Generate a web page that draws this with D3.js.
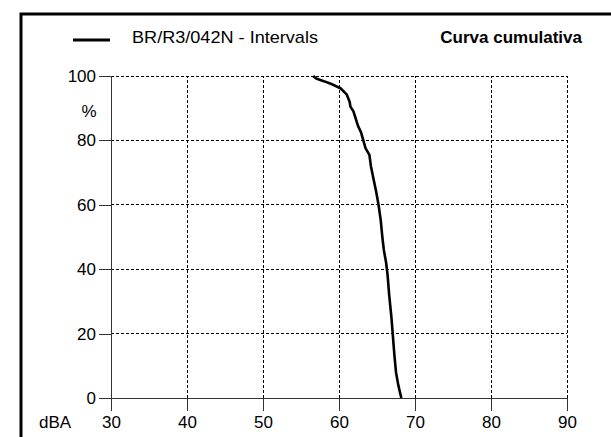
<!DOCTYPE html>
<html><head><meta charset="utf-8">
<script src="https://cdn.jsdelivr.net/npm/d3@7"></script>
<style>body{margin:0;background:#fff;}svg{display:block;font-family:"Liberation Sans",Arial,sans-serif;}</style>
</head><body>
<script>
const seriesName = "BR/R3/042N - Intervals";
const title = "Curva cumulativa";
const dBA = [56.6,57.0,58.0,59.0,60.2,61.0,61.4,61.5,61.9,62.1,62.5,62.9,63.2,63.5,64.0,64.2,64.5,64.9,65.2,65.5,65.7,65.9,66.2,66.4,66.6,66.9,67.1,67.3,67.5,67.8,68.2];
const pct = [100,99.2,98.4,97.5,96.2,94.3,92.0,90.5,89.0,87.5,84.5,82.5,80.0,77.5,75.5,72.0,68.5,64.0,60.0,55.0,50.0,46.0,42.0,38.0,32.0,25.0,19.0,13.0,8.0,4.0,0];
const xTicks = [30,40,50,60,70,80,90];
const yTicks = [0,20,40,60,80,100];

const W = 611, H = 437;
const FS = "17px";
const svg = d3.select("body").append("svg").attr("width", W).attr("height", H);
svg.append("rect").attr("width", W).attr("height", H).attr("fill", "#fff");
// frame
svg.append("rect").attr("x", 21).attr("y", 14).attr("width", 700).attr("height", 500)
  .attr("fill", "none").attr("stroke", "#000").attr("stroke-width", 3);

const x = d3.scaleLinear().domain([30, 90]).range([111, 567]);
const y = d3.scaleLinear().domain([0, 100]).range([398, 76]);

// grid
const g = svg.append("g");
g.selectAll("line.vg").data(xTicks.slice(1)).join("line")
  .attr("x1", d => x(d)).attr("x2", d => x(d)).attr("y1", y(0)).attr("y2", y(100))
  .attr("stroke", "#000").attr("stroke-width", 1).attr("stroke-dasharray", "3,2").attr("shape-rendering", "crispEdges");
g.selectAll("line.hg").data(yTicks.slice(1)).join("line")
  .attr("x1", x(30)).attr("x2", x(90)).attr("y1", d => y(d)).attr("y2", d => y(d))
  .attr("stroke", "#000").attr("stroke-width", 1).attr("stroke-dasharray", "3,2").attr("shape-rendering", "crispEdges");

// axes
const yAxis = d3.axisLeft(y).tickValues(yTicks).tickSize(12).tickPadding(3);
const ya = svg.append("g").attr("transform", `translate(${x(30)},0)`).call(yAxis);
const xAxis = d3.axisBottom(x).tickValues(xTicks).tickSize(13).tickPadding(5);
const xa = svg.append("g").attr("transform", `translate(0,${y(0)})`).call(xAxis);
[ya, xa].forEach(a => {
  a.select(".domain").attr("stroke", "#333").attr("stroke-width", 1).attr("shape-rendering", "crispEdges");
  a.selectAll(".tick line").attr("stroke", "#333").attr("stroke-width", 1).attr("shape-rendering", "crispEdges");
  a.selectAll(".tick text").attr("fill", "#000").style("font-size", FS).style("font-family", '"Liberation Sans",Arial,sans-serif');
});
xa.select(".domain").attr("d", `M${x(30)},0H${x(90)}`);
ya.select(".domain").attr("d", `M0,${y(0)}V${y(100)}`);

svg.append("text").attr("x", 89).attr("y", 117).attr("text-anchor", "middle").style("font-size", FS).text("%");
svg.append("text").attr("x", 55).attr("y", 428).attr("text-anchor", "middle").style("font-size", FS).text("dBA");

// curve
const line = d3.line().x((d, i) => x(d)).y((d, i) => y(pct[i]));
svg.append("path").datum(dBA).attr("d", line).attr("fill", "none")
  .attr("stroke", "#000").attr("stroke-width", 2.6).attr("stroke-linejoin", "round");

// legend
svg.append("line").attr("x1", 73).attr("x2", 110).attr("y1", 40).attr("y2", 40).attr("stroke", "#000").attr("stroke-width", 3);
svg.append("text").attr("x", 132).attr("y", 43).style("font-size", FS)
  .attr("textLength", 186).attr("lengthAdjust", "spacingAndGlyphs").text(seriesName);
svg.append("text").attr("x", 582).attr("y", 43).attr("text-anchor", "end").style("font-size", FS).style("font-weight", "bold").text(title);
</script>
</body></html>
